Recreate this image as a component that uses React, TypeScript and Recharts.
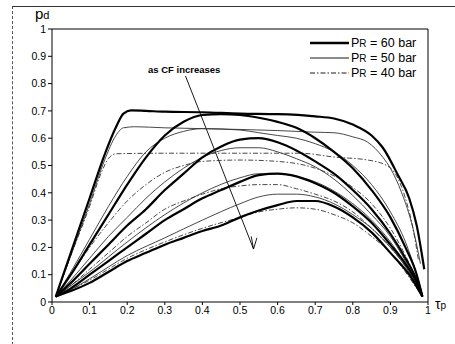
import { LineChart, Line, XAxis, YAxis, ReferenceLine } from 'recharts'

// tau_p on x, p_d on y; three reservoir pressures, five CF levels each
const xTicks = [0, 0.1, 0.2, 0.3, 0.4, 0.5, 0.6, 0.7, 0.8, 0.9, 1]
const yTicks = [0, 0.1, 0.2, 0.3, 0.4, 0.5, 0.6, 0.7, 0.8, 0.9, 1]

type Pt = [number, number]

// PR = 60 bar (thick)
const p60a: Pt[] = [[0.01, 0.02], [0.05, 0.18], [0.1, 0.38], [0.14, 0.54], [0.17, 0.64], [0.19, 0.69], [0.21, 0.702], [0.25, 0.7], [0.3, 0.697], [0.4, 0.695], [0.5, 0.69], [0.6, 0.688], [0.7, 0.68], [0.75, 0.672], [0.8, 0.65], [0.85, 0.61], [0.88, 0.565], [0.92, 0.465], [0.95, 0.38], [0.97, 0.28], [0.99, 0.12]]
const p60b: Pt[] = [[0.01, 0.02], [0.05, 0.1], [0.1, 0.21], [0.15, 0.32], [0.2, 0.43], [0.25, 0.53], [0.3, 0.61], [0.35, 0.66], [0.4, 0.685], [0.45, 0.688], [0.5, 0.685], [0.55, 0.675], [0.6, 0.66], [0.65, 0.638], [0.7, 0.6], [0.75, 0.55], [0.8, 0.49], [0.85, 0.41], [0.9, 0.31], [0.94, 0.2], [0.97, 0.1], [0.985, 0.02]]
const p60c: Pt[] = [[0.01, 0.02], [0.05, 0.07], [0.1, 0.14], [0.15, 0.21], [0.2, 0.28], [0.25, 0.34], [0.3, 0.41], [0.35, 0.47], [0.4, 0.53], [0.45, 0.57], [0.5, 0.595], [0.55, 0.6], [0.6, 0.585], [0.65, 0.555], [0.7, 0.515], [0.75, 0.47], [0.8, 0.41], [0.85, 0.34], [0.9, 0.25], [0.94, 0.16], [0.97, 0.08], [0.985, 0.02]]
const p60d: Pt[] = [[0.01, 0.02], [0.05, 0.05], [0.1, 0.1], [0.15, 0.15], [0.2, 0.2], [0.25, 0.25], [0.3, 0.3], [0.35, 0.34], [0.4, 0.38], [0.45, 0.41], [0.5, 0.44], [0.55, 0.465], [0.6, 0.47], [0.65, 0.46], [0.7, 0.435], [0.75, 0.4], [0.8, 0.35], [0.85, 0.29], [0.9, 0.21], [0.94, 0.14], [0.97, 0.07], [0.985, 0.02]]
const p60e: Pt[] = [[0.01, 0.02], [0.05, 0.04], [0.1, 0.07], [0.15, 0.11], [0.2, 0.15], [0.25, 0.18], [0.3, 0.21], [0.35, 0.235], [0.4, 0.26], [0.45, 0.28], [0.5, 0.31], [0.55, 0.335], [0.6, 0.355], [0.65, 0.37], [0.7, 0.37], [0.75, 0.35], [0.8, 0.31], [0.85, 0.255], [0.9, 0.18], [0.95, 0.1], [0.985, 0.02]]

// PR = 50 bar (thin)
const p50a: Pt[] = [[0.01, 0.02], [0.05, 0.17], [0.1, 0.36], [0.14, 0.52], [0.17, 0.61], [0.19, 0.638], [0.22, 0.642], [0.3, 0.638], [0.4, 0.635], [0.5, 0.632], [0.6, 0.628], [0.7, 0.622], [0.75, 0.62], [0.8, 0.605], [0.84, 0.585], [0.88, 0.53], [0.9, 0.49], [0.93, 0.4], [0.96, 0.27], [0.98, 0.14]]
const p50b: Pt[] = [[0.01, 0.02], [0.05, 0.11], [0.1, 0.23], [0.15, 0.35], [0.2, 0.46], [0.25, 0.55], [0.3, 0.6], [0.35, 0.625], [0.4, 0.635], [0.5, 0.63], [0.55, 0.62], [0.6, 0.61], [0.65, 0.6], [0.7, 0.58], [0.75, 0.55], [0.8, 0.5], [0.85, 0.43], [0.9, 0.33], [0.94, 0.22], [0.97, 0.1], [0.985, 0.03]]
const p50c: Pt[] = [[0.01, 0.02], [0.05, 0.08], [0.1, 0.16], [0.15, 0.24], [0.2, 0.31], [0.25, 0.38], [0.3, 0.44], [0.35, 0.49], [0.4, 0.53], [0.45, 0.555], [0.5, 0.565], [0.55, 0.565], [0.6, 0.55], [0.65, 0.525], [0.7, 0.495], [0.75, 0.45], [0.8, 0.39], [0.85, 0.32], [0.9, 0.24], [0.94, 0.15], [0.97, 0.07], [0.985, 0.02]]
const p50d: Pt[] = [[0.01, 0.02], [0.05, 0.06], [0.1, 0.11], [0.2, 0.22], [0.3, 0.32], [0.4, 0.4], [0.5, 0.455], [0.55, 0.47], [0.6, 0.47], [0.65, 0.46], [0.7, 0.44], [0.8, 0.36], [0.85, 0.3], [0.9, 0.22], [0.94, 0.14], [0.97, 0.07], [0.985, 0.02]]
const p50e: Pt[] = [[0.01, 0.02], [0.05, 0.045], [0.1, 0.085], [0.2, 0.17], [0.3, 0.235], [0.4, 0.3], [0.5, 0.36], [0.55, 0.385], [0.6, 0.395], [0.65, 0.395], [0.7, 0.385], [0.75, 0.36], [0.8, 0.32], [0.85, 0.27], [0.9, 0.2], [0.94, 0.13], [0.97, 0.06], [0.985, 0.02]]

// PR = 40 bar (dash-dot)
const p40a: Pt[] = [[0.01, 0.02], [0.05, 0.17], [0.1, 0.35], [0.13, 0.47], [0.15, 0.525], [0.17, 0.543], [0.3, 0.545], [0.5, 0.545], [0.66, 0.545], [0.75, 0.531], [0.84, 0.52], [0.89, 0.5], [0.91, 0.476], [0.94, 0.38], [0.96, 0.27], [0.975, 0.15]]
const p40b: Pt[] = [[0.01, 0.02], [0.05, 0.1], [0.1, 0.2], [0.15, 0.29], [0.2, 0.37], [0.25, 0.43], [0.3, 0.475], [0.35, 0.5], [0.4, 0.515], [0.5, 0.52], [0.6, 0.515], [0.7, 0.49], [0.8, 0.42], [0.85, 0.36], [0.9, 0.27], [0.94, 0.17], [0.97, 0.08], [0.985, 0.03]]
const p40c: Pt[] = [[0.01, 0.02], [0.05, 0.06], [0.1, 0.12], [0.15, 0.18], [0.2, 0.24], [0.25, 0.29], [0.3, 0.34], [0.35, 0.37], [0.4, 0.395], [0.45, 0.415], [0.5, 0.425], [0.55, 0.43], [0.6, 0.43], [0.65, 0.415], [0.7, 0.395], [0.75, 0.37], [0.8, 0.33], [0.85, 0.27], [0.9, 0.2], [0.94, 0.13], [0.97, 0.06], [0.985, 0.02]]
const p40d: Pt[] = [[0.01, 0.02], [0.05, 0.045], [0.1, 0.08], [0.2, 0.16], [0.3, 0.22], [0.4, 0.27], [0.5, 0.31], [0.55, 0.33], [0.6, 0.34], [0.65, 0.345], [0.7, 0.34], [0.75, 0.32], [0.8, 0.29], [0.85, 0.24], [0.9, 0.18], [0.94, 0.11], [0.97, 0.05], [0.985, 0.02]]

const thick = [p60a, p60b, p60c, p60d, p60e]
const thin = [p50a, p50b, p50c, p50d, p50e]
const dashDot = [p40a, p40b, p40c, p40d]

// "as CF increases" arrow, in data units
const arrowFrom = { x: 0.355, y: 0.828 }
const arrowTo = { x: 0.536, y: 0.194 }

const font = '"Liberation Sans", Arial, sans-serif'
const toPts = (a: Pt[]) => a.map(([x, y]) => ({ x, y }))
const fmt = (v: number) => (v === 0 || v === 1 ? String(v) : v.toFixed(1))

function LegendRow({ dash, width, label }: { dash?: string; width: number; label: string }) {
  return (
    <div style={{ display: 'flex', alignItems: 'center', height: 15 }}>
      <svg width={40} height={6}>
        <line x1={0} y1={3} x2={39} y2={3} stroke="#000" strokeWidth={width} strokeDasharray={dash} />
      </svg>
      <span style={{ fontSize: 12.5, marginLeft: 1 }}>
        P<span style={{ fontSize: 10 }}>R</span> = {label} bar
      </span>
    </div>
  )
}

export default function App() {
  return (
    <div style={{ position: 'absolute', left: 0, top: 0, width: 455, height: 344, background: '#fff', fontFamily: font, color: '#000' }}>
      <div style={{ position: 'absolute', left: 12, top: 6, width: 443, height: 338, borderLeft: '1px dashed #555', borderTop: '1px solid #333' }} />
      <LineChart width={455} height={344} margin={{ top: 29, right: 27, bottom: 12, left: 12 }}>
        <XAxis
          type="number"
          dataKey="x"
          domain={[0, 1]}
          ticks={xTicks}
          tickFormatter={fmt}
          height={30}
          tickSize={3}
          tick={{ fontSize: 10.5, fill: '#000', fontFamily: font }}
          stroke="#000"
        />
        <YAxis
          type="number"
          dataKey="y"
          domain={[0, 1]}
          ticks={yTicks}
          tickFormatter={fmt}
          width={40}
          tickSize={4}
          tick={{ fontSize: 10.5, fill: '#000', fontFamily: font }}
          stroke="#000"
        />
        <ReferenceLine y={1} stroke="#000" />
        <ReferenceLine x={1} stroke="#000" />
        <ReferenceLine segment={[arrowFrom, arrowTo]} stroke="#000" strokeWidth={0.9} />
        <ReferenceLine segment={[{ x: 0.53, y: 0.24 }, arrowTo]} stroke="#000" strokeWidth={0.9} />
        <ReferenceLine segment={[{ x: 0.545, y: 0.235 }, arrowTo]} stroke="#000" strokeWidth={0.9} />
        {thin.map((d, i) => (
          <Line key={'t' + i} data={toPts(d)} dataKey="y" type="monotone" stroke="#333" strokeWidth={0.9} dot={false} isAnimationActive={false} />
        ))}
        {dashDot.map((d, i) => (
          <Line key={'d' + i} data={toPts(d)} dataKey="y" type="monotone" stroke="#333" strokeWidth={0.9} strokeDasharray="5 2 1.5 2" dot={false} isAnimationActive={false} />
        ))}
        {thick.map((d, i) => (
          <Line key={'k' + i} data={toPts(d)} dataKey="y" type="monotone" stroke="#000" strokeWidth={2.2} dot={false} isAnimationActive={false} />
        ))}
      </LineChart>
      <div style={{ position: 'absolute', left: 35, top: 5, fontSize: 15 }}>
        p<span style={{ fontSize: 11 }}>d</span>
      </div>
      <div style={{ position: 'absolute', left: 435, top: 296, fontSize: 14 }}>
        τ<span style={{ fontSize: 10 }}>p</span>
      </div>
      <div style={{ position: 'absolute', left: 148, top: 64, fontSize: 9.5, fontWeight: 'bold' }}>as CF increases</div>
      <div style={{ position: 'absolute', left: 310, top: 35 }}>
        <LegendRow width={2.6} label="60" />
        <LegendRow width={0.9} label="50" />
        <LegendRow width={0.9} dash="5 2 1.5 2" label="40" />
      </div>
    </div>
  )
}
